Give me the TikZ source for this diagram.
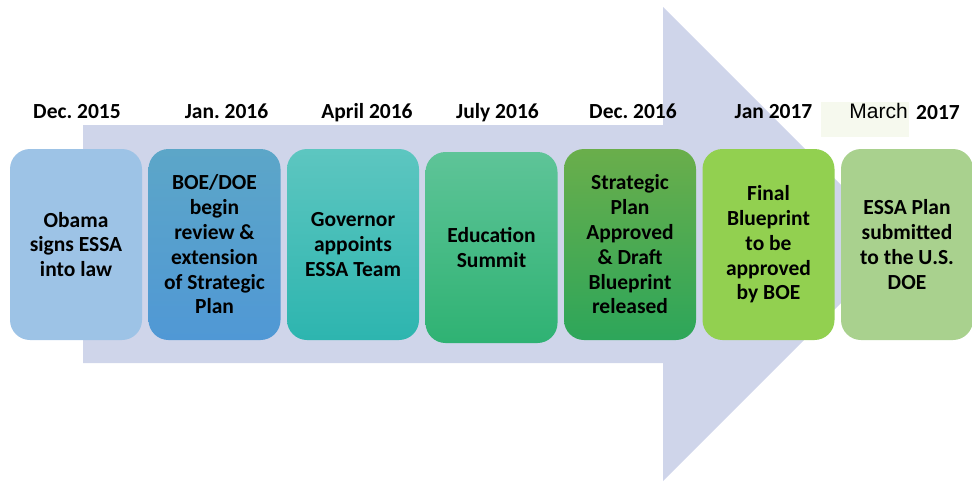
\documentclass[tikz,border=0pt]{standalone}
\usepackage{fontspec}
\setmainfont{Carlito}
\newfontfamily\arialfont{Liberation Sans}
\usetikzlibrary{positioning}
\frenchspacing

\definecolor{arrowlav}{HTML}{CFD5EA}
\definecolor{marchbg}{HTML}{F6F9EE}
\definecolor{boxone}{HTML}{9DC3E6}
\definecolor{boxsix}{HTML}{92D050}
\definecolor{boxseven}{HTML}{A9D18E}

\begin{document}
\begin{tikzpicture}[x=1pt, y=-1pt, node distance=138.5pt]
    \tikzstyle{box}=[rectangle,rounded corners=20pt,align=center,minimum width=132pt,minimum height=191pt,inner sep=2pt,font=\bfseries\fontsize{21.5}{24.8}\selectfont]
    \tikzstyle{date}=[inner sep=0pt,anchor=base,font=\bfseries\fontsize{21.5}{24}\selectfont]
    \useasboundingbox (0,0) rectangle (972,482);
    % big background arrow
    \fill[arrowlav] (83,125) -- (663,125) -- (663,7) -- (900,244) -- (663,481) -- (663,363) -- (83,363) -- cycle;
    \node[box,fill=boxone] (obama) at (76,244.5) {Obama\\signs ESSA\\into law};
    \node[box,right of=obama,top color={rgb,255:red,92;green,166;blue,200},bottom color={rgb,255:red,80;green,152;blue,213}] (review) {BOE/DOE\\begin\\review \&\\extension\\of Strategic\\Plan};
    \node[box,right of=review,top color={rgb,255:red,93;green,198;blue,192},bottom color={rgb,255:red,45;green,181;blue,175}] (governor) {Governor\\appoints\\ESSA Team};
    \node[box,right of=governor,yshift=-3pt,top color={rgb,255:red,94;green,196;blue,152},bottom color={rgb,255:red,47;green,178;blue,115}] (summit) {Education\\Summit};
    \node[box,right of=governor,xshift=138.5pt,top color={rgb,255:red,106;green,174;blue,75},middle color={rgb,255:red,59;green,184;blue,94},bottom color={rgb,255:red,45;green,166;blue,90}] (strategic) {Strategic\\Plan\\Approved\\\& Draft\\Blueprint\\released};
    \node[box,right of=strategic,fill=boxsix] (final) {Final\\Blueprint\\to be\\approved\\by BOE};
    \node[box,right of=final,fill=boxseven] (submitted) {ESSA Plan\\submitted\\to the U.S.\\DOE};
    % dates
    \node[date] (d1) at ([xshift=1pt,yshift=30pt]obama.north) {Dec. 2015};
    \node[date] (d2) at ([xshift=12pt,yshift=30pt]review.north) {Jan. 2016};
    \node[date] (d3) at ([xshift=14pt,yshift=30pt]governor.north) {April 2016};
    \node[date] (d4) at ([xshift=6pt,yshift=33pt]summit.north) {July 2016};
    \node[date] (d5) at ([xshift=3pt,yshift=30pt]strategic.north) {Dec. 2016};
    \node[date] (d6) at ([xshift=5pt,yshift=30pt]final.north) {Jan 2017};
    \fill[marchbg] (821,102) rectangle (909,137);
    \node[inner sep=0pt,anchor=base east,font=\arialfont\fontsize{21}{24}\selectfont] (march) at (908,118) {March};
    \node[date,anchor=base west] (d7) at ([xshift=8pt,yshift=-1pt]march.base east) {2017};
  \end{tikzpicture}
\end{document}
